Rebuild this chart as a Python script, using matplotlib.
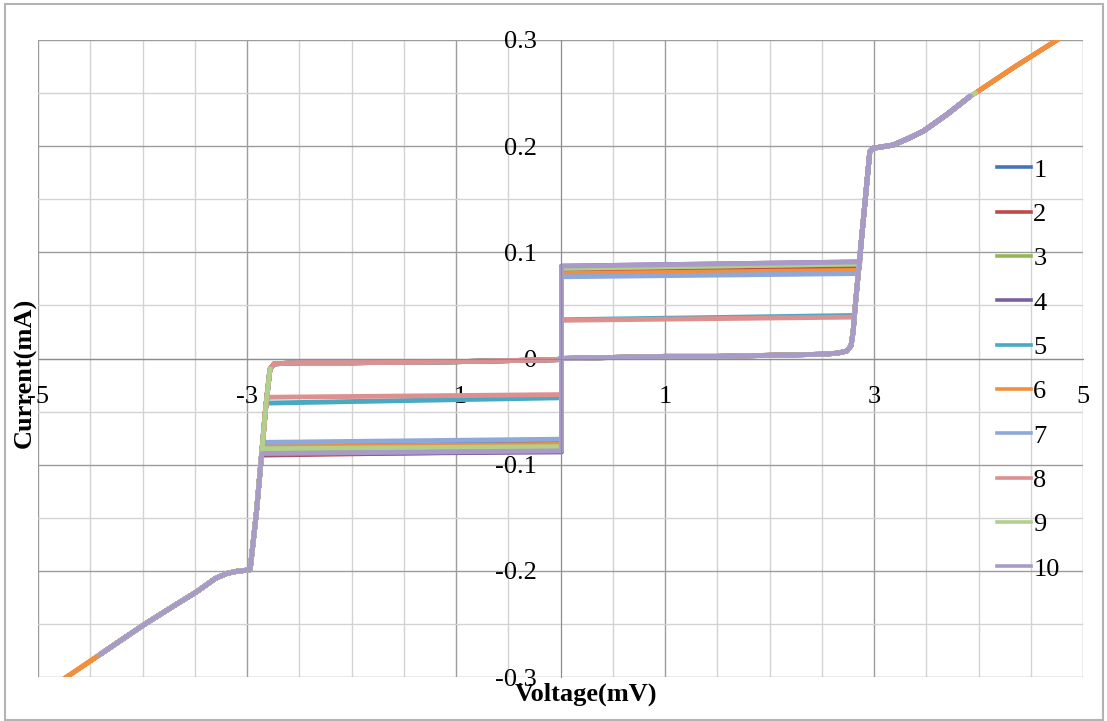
import matplotlib.pyplot as plt
from matplotlib.patches import Rectangle
from matplotlib.ticker import FixedLocator, MultipleLocator

plt.rcParams['font.family'] = ['Liberation Serif', 'DejaVu Serif']
plt.rcParams['axes.unicode_minus'] = False

# series names and colours
names = ['1', '2', '3', '4', '5', '6', '7', '8', '9', '10']
colors = ['#4674B9', '#BE4B48', '#95B656', '#7A5F9E', '#47A9C3',
          '#F28F3E', '#8DA8DA', '#DC9190', '#B3CF8C', '#A99BC8']

# plateau currents (mA) on each side: next to 0 mV and at the gap end
pos_i0 = [0.078, 0.0825, 0.085, 0.087, 0.0365, 0.080, 0.077, 0.036, 0.085, 0.087]
pos_i1 = [0.081, 0.0855, 0.089, 0.091, 0.0405, 0.083, 0.080, 0.039, 0.089, 0.091]
neg_i0 = [-0.077, -0.087, -0.084, -0.088, -0.037, -0.081, -0.076, -0.034, -0.083, -0.087]
neg_i1 = [-0.080, -0.091, -0.086, -0.090, -0.042, -0.083, -0.079, -0.0365, -0.085, -0.0895]
pos_end_v = [2.85, 2.86, 2.86, 2.86, 2.81, 2.85, 2.85, 2.81, 2.86, 2.86]
neg_end_v = [-2.84, -2.86, -2.85, -2.86, -2.81, -2.84, -2.84, -2.80, -2.85, -2.86]
# sweep extent (mV) and how much of the return branch each sweep drew
v_hi = [3.92, 3.92, 3.92, 3.92, 3.92, 4.80, 3.92, 3.92, 3.97, 3.92]
v_lo = [-4.41, -4.41, -4.41, -4.41, -4.41, -4.80, -4.41, -4.41, -4.41, -4.41]
ret_n = [9, 9, 9, 9, 9, 9, 9, 9, 4, 0]

# branches shared by all sweeps (mV, mA)
sub_gap_v = [0.0, 0.5, 1.0, 1.5, 2.0, 2.5, 2.65, 2.74, 2.78]
sub_gap_i = [0.000, 0.001, 0.002, 0.002, 0.003, 0.004, 0.005, 0.007, 0.012]
rise_v = [2.80, 2.82, 2.88, 2.96]
rise_i = [0.025, 0.049, 0.112, 0.195]
outer_pos_v = [2.99, 3.18, 3.30, 3.47, 3.70, 3.92, 3.97, 4.35, 4.80]
outer_pos_i = [0.198, 0.201, 0.206, 0.214, 0.230, 0.247, 0.250, 0.275, 0.303]
fall_v = [-2.78, -2.82, -2.86, -2.91]
fall_i = [-0.010, -0.045, -0.090, -0.145]
outer_neg_v = [-2.97, -3.10, -3.19, -3.30, -3.48, -3.70, -3.99, -4.41, -4.80]
outer_neg_i = [-0.199, -0.2005, -0.2024, -0.207, -0.2196, -0.233, -0.251, -0.279, -0.305]
back_v = [-2.74, -2.5, -2.0, -1.0, 0.0]
back_i = [-0.005, -0.004, -0.004, -0.003, -0.001]
jump_v = 0.01

x_ticks = [-5, -3, -1, 1, 3, 5]
y_ticks = [-0.3, -0.2, -0.1, 0, 0.1, 0.2, 0.3]
y_labels = ['-0.3', '-0.2', '-0.1', '0', '0.1', '0.2', '0.3']

fig = plt.figure(figsize=(11.07, 7.21), dpi=100)
ax = fig.add_axes([38 / 1107, 44 / 721, 1045 / 1107, 637 / 721])

for k in range(10):
    v = list(sub_gap_v) + list(rise_v)
    i = list(sub_gap_i) + list(rise_i)
    up = [(a, b) for a, b in zip(outer_pos_v, outer_pos_i) if a <= v_hi[k]]
    v += [p[0] for p in up] + [p[0] for p in up[::-1]]
    i += [p[1] for p in up] + [p[1] for p in up[::-1]]
    down = [(a, b) for a, b in zip(rise_v, rise_i) if b > pos_i1[k]][::-1]
    v += [p[0] for p in down] + [pos_end_v[k], jump_v, jump_v, neg_end_v[k]]
    i += [p[1] for p in down] + [pos_i1[k], pos_i0[k], neg_i0[k], neg_i1[k]]
    low = [(a, b) for a, b in zip(fall_v, fall_i) if b < neg_i1[k]]
    low += [(a, b) for a, b in zip(outer_neg_v, outer_neg_i) if a >= v_lo[k]]
    v += [p[0] for p in low]
    i += [p[1] for p in low]
    if ret_n[k]:
        back = [(a, b) for a, b in zip(outer_neg_v, outer_neg_i) if a >= v_lo[k]][::-1]
        tail = list(zip(fall_v, fall_i))[::-1] + list(zip(back_v, back_i))
        back += tail[:ret_n[k]]
        v += [p[0] for p in back]
        i += [p[1] for p in back]
    ax.plot(v, i, color=colors[k], lw=3.5, label=names[k], solid_joinstyle='round')

ax.set_xlim(-5, 5)
ax.set_ylim(-0.3, 0.3)
ax.xaxis.set_major_locator(FixedLocator(x_ticks))
ax.set_xticklabels([str(t) for t in x_ticks])
ax.xaxis.set_minor_locator(MultipleLocator(0.5))
ax.yaxis.set_major_locator(FixedLocator(y_ticks))
ax.set_yticklabels(y_labels)
ax.yaxis.set_minor_locator(MultipleLocator(0.05))
ax.tick_params(which='both', length=0, labelsize=19)
ax.tick_params(axis='x', pad=20)
ax.tick_params(axis='y', pad=17)

for side in ['top', 'right']:
    ax.spines[side].set_visible(False)
for side in ['left', 'bottom']:
    ax.spines[side].set_position(('data', 0))
    ax.spines[side].set_color('#8c8c8c')
ax.grid(which='major', color='#9c9c9c', lw=1)
ax.grid(which='minor', color='#d3d3d3', lw=1)
ax.set_axisbelow(True)

leg = ax.legend(frameon=False, loc='upper left', fontsize=19,
                bbox_to_anchor=(984 / 1107, 1 - 145 / 721), bbox_transform=fig.transFigure,
                handlelength=1.29, handletextpad=0.08, labelspacing=0.79, borderpad=0)
for h in leg.get_lines():
    h.set_linewidth(2.6)

fig.text(586 / 1107, 1 - 694 / 721, 'Voltage(mV)', ha='center', va='center',
         fontsize=19, fontweight='bold')
fig.text(25 / 1107, 1 - 373 / 721, 'Current(mA)', ha='center', va='center',
         rotation=90, fontsize=19, fontweight='bold')

fig.patches.append(Rectangle((5 / 1107, 1 / 721), 1098 / 1107, 716 / 721,
                             transform=fig.transFigure, fill=False,
                             edgecolor='#b3b3b3', lw=1.5))

fig.savefig('out.png', dpi=100)
